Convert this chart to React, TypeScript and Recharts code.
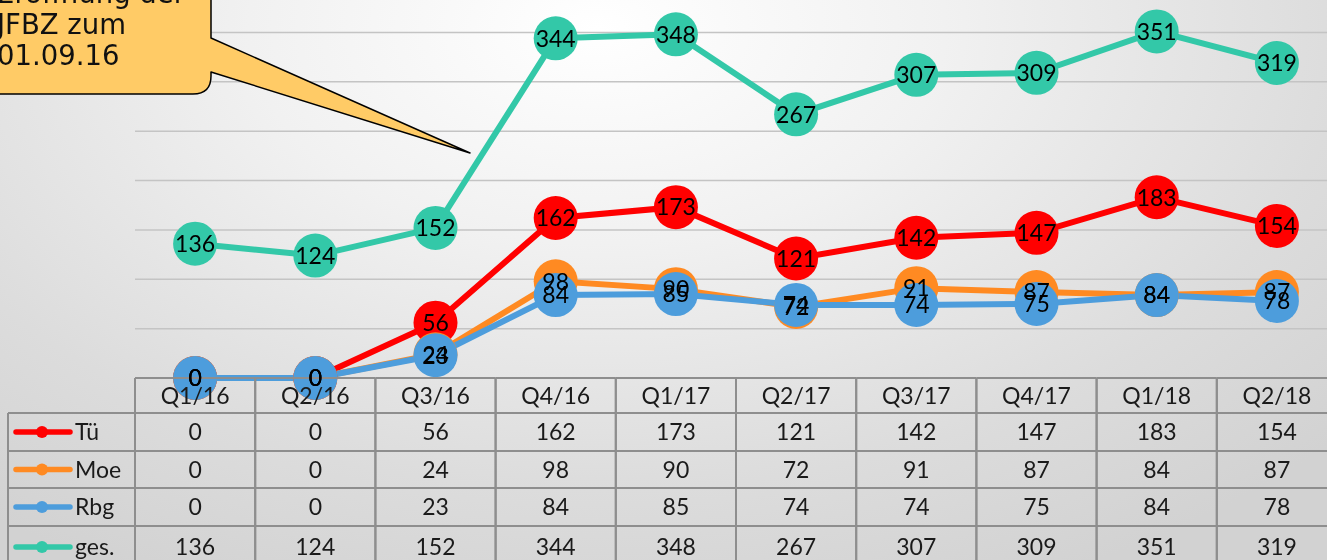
import { LineChart, Line, XAxis, YAxis, CartesianGrid, LabelList } from "recharts";

const quarters = ["Q1/16", "Q2/16", "Q3/16", "Q4/16", "Q1/17", "Q2/17", "Q3/17", "Q4/17", "Q1/18", "Q2/18"];
const tue = [0, 0, 56, 162, 173, 121, 142, 147, 183, 154];
const moe = [0, 0, 24, 98, 90, 72, 91, 87, 84, 87];
const rbg = [0, 0, 23, 84, 85, 74, 74, 75, 84, 78];
const ges = [136, 124, 152, 344, 348, 267, 307, 309, 351, 319];
const yTicks = [0, 50, 100, 150, 200, 250, 300, 350, 400];
const calloutLines = ["Eröffnung der", "JFBZ zum", "01.09.16"];

const series = [
  { key: "tue", name: "Tü", color: "#FF0000", values: tue },
  { key: "moe", name: "Moe", color: "#FF8A22", values: moe },
  { key: "rbg", name: "Rbg", color: "#4D9DDC", values: rbg },
  { key: "ges", name: "ges.", color: "#33C8A8", values: ges },
];

const data = quarters.map((q, i) => ({ q, tue: tue[i], moe: moe[i], rbg: rbg[i], ges: ges[i] }));

const FONT = "Lato, 'DejaVu Sans', sans-serif";
const BAND = 120.2;
const PLOT_LEFT = 135;
const TOP_SHIFT = -17;
const ROW_EDGES = [0, 35, 73, 110, 148, 190];
const GRID_COLOR = "#8E8E8E";

// x-axis ticks draw the whole data table column by column
function TableColumn(props: any) {
  const { x, y, payload } = props;
  const i = quarters.indexOf(payload.value);
  const half = BAND / 2;
  const left = x - half;
  const right = x + half;
  const bottom = y + ROW_EDGES[ROW_EDGES.length - 1];
  const centers = ROW_EDGES.slice(0, -1).map((e, k) => y + (e + ROW_EDGES[k + 1]) / 2);
  const rowLeft = 8;
  return (
    <g>
      {ROW_EDGES.slice(0, -1).map((e) => (
        <line key={e} x1={left} x2={right} y1={y + e} y2={y + e} stroke={GRID_COLOR} strokeWidth={2} />
      ))}
      <line x1={left} x2={left} y1={y} y2={bottom} stroke={GRID_COLOR} strokeWidth={2} />
      <line x1={right} x2={right} y1={y} y2={bottom} stroke={GRID_COLOR} strokeWidth={2} />
      <text x={x} y={centers[0]} dy="0.36em" textAnchor="middle" fontSize={23} fill="#1a1a1a" fontFamily={FONT}>
        {payload.value}
      </text>
      {series.map((s, k) => (
        <text key={s.key} x={x} y={centers[k + 1]} dy="0.36em" textAnchor="middle" fontSize={23} fill="#1a1a1a" fontFamily={FONT}>
          {s.values[i]}
        </text>
      ))}
      {i === 0 && (
        <g>
          {ROW_EDGES.slice(1, -1).map((e) => (
            <line key={e} x1={rowLeft} x2={left} y1={y + e} y2={y + e} stroke={GRID_COLOR} strokeWidth={2} />
          ))}
          <line x1={rowLeft} x2={rowLeft} y1={y + ROW_EDGES[1]} y2={bottom} stroke={GRID_COLOR} strokeWidth={2} />
          {series.map((s, k) => (
            <g key={s.key}>
              <line x1={16} x2={70} y1={centers[k + 1]} y2={centers[k + 1]} stroke={s.color} strokeWidth={5.5} strokeLinecap="round" />
              <circle cx={42} cy={centers[k + 1]} r={6} fill={s.color} />
              <text x={75} y={centers[k + 1]} dy="0.36em" fontSize={23} fill="#1a1a1a" fontFamily={FONT}>
                {s.name}
              </text>
            </g>
          ))}
        </g>
      )}
    </g>
  );
}

function CenterLabel(p: any) {
  const vb = p.viewBox || {};
  const x = (vb.x ?? p.x) + (vb.width || 0) / 2;
  const y = (vb.y ?? p.y) + (vb.height || 0) / 2;
  return (
    <text x={x} y={y} dy="0.36em" textAnchor="middle" fontSize={23} fill="#000" fontFamily={FONT}>
      {p.value}
    </text>
  );
}

function Callout() {
  return (
    <svg width={520} height={170} style={{ position: "absolute", left: 0, top: 0 }}>
      <path
        d="M -10,-10 L 211,-10 L 211,38 L 470,153 L 211,72 L 211,76 Q 211,94 193,94 L -10,94 Z"
        fill="#FFCB66"
        stroke="#000"
        strokeWidth={1.5}
        strokeLinejoin="round"
      />
      {calloutLines.map((t, k) => (
        <text key={t} x={-3} y={3 + k * 31} fontSize={27.5} fill="#111" fontFamily="'DejaVu Sans', sans-serif">
          {t}
        </text>
      ))}
    </svg>
  );
}

export default function App() {
  return (
    <div
      style={{
        position: "fixed",
        left: 0,
        top: 0,
        width: 1327,
        height: 560,
        overflow: "hidden",
        background: "radial-gradient(ellipse 75% 110% at 45% 5%, #ffffff 0%, #f1f1f1 35%, #dcdcdc 75%, #d2d2d2 100%)",
      }}
    >
      <div style={{ position: "absolute", left: 0, top: TOP_SHIFT }}>
        <LineChart width={1337} height={590} data={data} margin={{ top: 0, right: 0, left: PLOT_LEFT, bottom: 0 }}>
          <CartesianGrid horizontal vertical={false} stroke="#C4C4C4" strokeWidth={1.5} />
          <YAxis hide domain={[0, 400]} ticks={yTicks} type="number" />
          <XAxis
            dataKey="q"
            height={195}
            padding={{ left: BAND / 2, right: BAND / 2 }}
            axisLine={false}
            tickLine={false}
            tickSize={0}
            tickMargin={0}
            interval={0}
            tick={(props: any) => <TableColumn {...props} />}
          />
          {series.map((s) => (
            <Line
              key={s.key}
              dataKey={s.key}
              stroke={s.color}
              strokeWidth={6}
              dot={{ r: 22, fill: s.color, stroke: s.color, strokeWidth: 0 }}
              activeDot={false}
              isAnimationActive={false}
              type="linear"
            />
          ))}
          {series.map((s) => (
            <Line
              key={s.key + "-lbl"}
              dataKey={s.key}
              stroke="none"
              dot={false}
              activeDot={false}
              legendType="none"
              isAnimationActive={false}
            >
              <LabelList dataKey={s.key} content={<CenterLabel />} />
            </Line>
          ))}
        </LineChart>
      </div>
      <Callout />
    </div>
  );
}
